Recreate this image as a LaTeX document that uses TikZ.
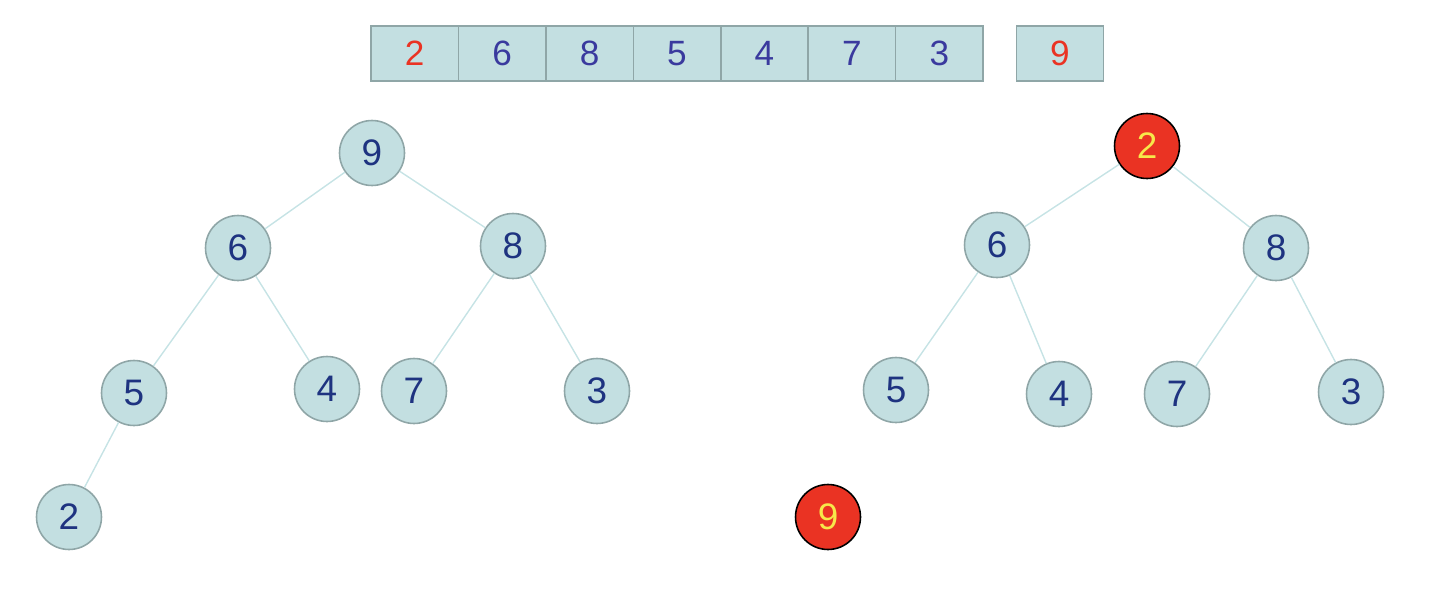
\documentclass[tikz,border=0pt]{standalone}
\usepackage{fontspec}
\setmainfont{Liberation Sans}
\usepackage{xcolor}
\usepackage{tikz}
\usetikzlibrary{positioning}

\definecolor{celfundo}{HTML}{C3DFE1}
\definecolor{celborda}{HTML}{8FA6A7}
\definecolor{azulnum}{HTML}{1E3380}
\definecolor{roxonum}{HTML}{3A3A9E}
\definecolor{vermelho}{HTML}{EA3323}
\definecolor{amarelo}{HTML}{F7E84A}
\definecolor{aresta}{HTML}{C6E3E5}

\tikzset{
  celula/.style={draw=celborda, line width=0.9pt, fill=celfundo, inner sep=0pt,
    minimum width=1.748cm, minimum height=1.1cm,
    text=roxonum, font=\fontsize{20}{24}\selectfont},
  no/.style={circle, draw=celborda, line width=0.9pt, fill=celfundo, inner sep=0pt,
    minimum size=1.3cm, text=azulnum, font=\fontsize{21}{24}\selectfont},
  noraiz/.style={no, draw=black, fill=vermelho, text=amarelo},
  ligacao/.style={draw=aresta, line width=0.8pt},
}

\begin{document}
\begin{tikzpicture}[x=0.02cm, y=-0.02cm]
  \useasboundingbox (0,0) rectangle (1450,612);
  % vetor
  \node[celula, text=vermelho] (c0) at (414.7,53.5) {2};
  \node[celula] (c1) at (502.1,53.5) {6};
  \node[celula] (c2) at (589.6,53.5) {8};
  \node[celula] (c3) at (677.0,53.5) {5};
  \node[celula] (c4) at (764.4,53.5) {4};
  \node[celula] (c5) at (851.9,53.5) {7};
  \node[celula] (c6) at (939.3,53.5) {3};
  \node[celula, text=vermelho] (c7) at (1060,53.5) {9};
  % arvore da esquerda
  \node[no] (a9) at (372,153) {9};
  \node[no] (a6) at (238,248) {6};
  \node[no] (a8) at (513,246) {8};
  \node[no] (a5) at (134,393) {5};
  \node[no] (a4) at (327,389) {4};
  \node[no] (a7) at (414,391) {7};
  \node[no] (a3) at (597,391) {3};
  \node[no] (a2) at (69,517) {2};
  \draw[ligacao] (a9) -- (a6);
  \draw[ligacao] (a9) -- (a8);
  \draw[ligacao] (a6) -- (a5);
  \draw[ligacao] (a6) -- (a4);
  \draw[ligacao] (a8) -- (a7);
  \draw[ligacao] (a8) -- (a3);
  \draw[ligacao] (a5) -- (a2);
  % arvore da direita
  \node[noraiz] (b2) at (1147,146) {2};
  \node[no] (b6) at (997,245) {6};
  \node[no] (b8) at (1276,248) {8};
  \node[no] (b5) at (896,390) {5};
  \node[no] (b4) at (1059,394) {4};
  \node[no] (b7) at (1177,394) {7};
  \node[no] (b3) at (1351,392) {3};
  \node[noraiz] (b9) at (828,517) {9};
  \draw[ligacao] (b2) -- (b6);
  \draw[ligacao] (b2) -- (b8);
  \draw[ligacao] (b6) -- (b5);
  \draw[ligacao] (b6) -- (b4);
  \draw[ligacao] (b8) -- (b7);
  \draw[ligacao] (b8) -- (b3);
\end{tikzpicture}
\end{document}
